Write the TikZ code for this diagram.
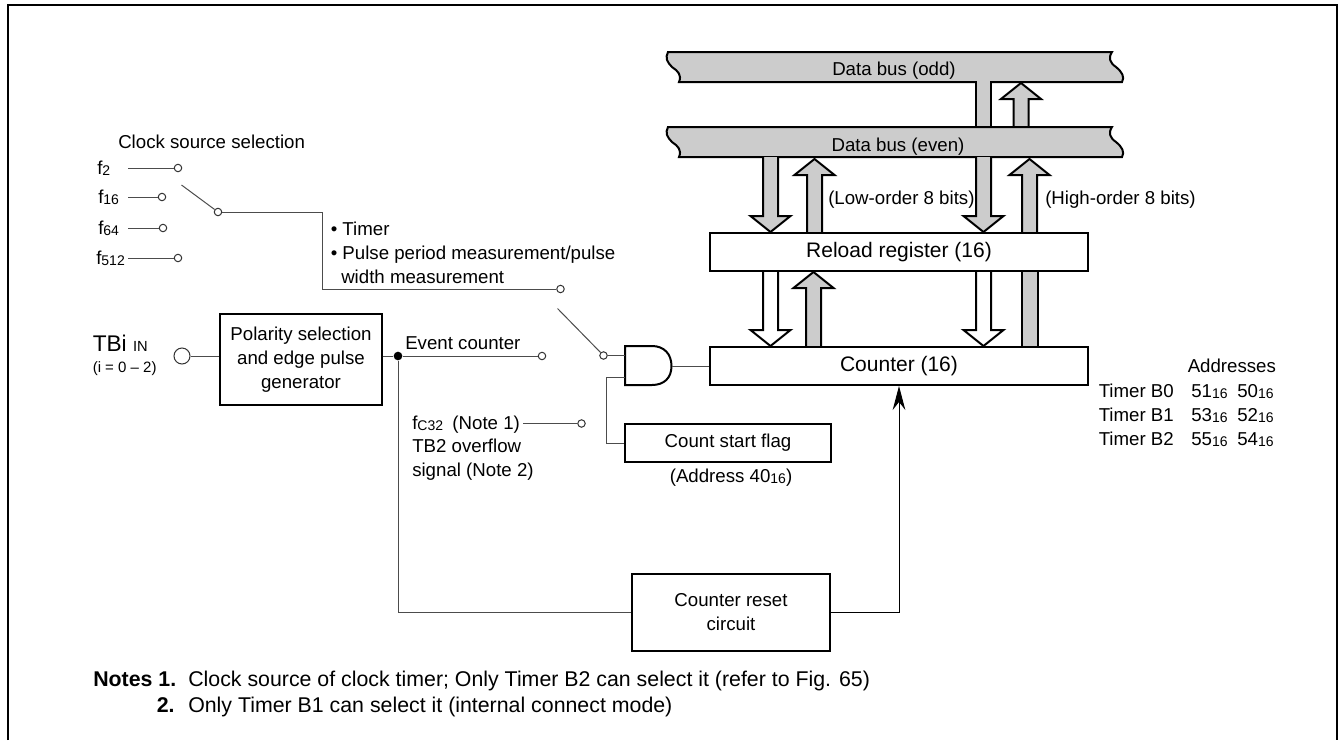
\documentclass[tikz,border=0pt]{standalone}
\usepackage{fontspec}
\setmainfont{Liberation Sans}
\usetikzlibrary{arrows.meta}
\definecolor{busgray}{gray}{0.8}
\newcommand{\lo}[1]{\raisebox{-1pt}{\fontsize{10.5}{11}\selectfont #1}}
\newcommand{\busbar}[1]{\draw[bus] (668,#1) .. controls (665,#1+6) and (667,#1+10) .. (672,#1+15)
    .. controls (678,#1+19) and (682,#1+23) .. (679,#1+30) -- (1122,#1+30)
    .. controls (1125,#1+25) and (1122,#1+20) .. (1116,#1+15)
    .. controls (1110,#1+11) and (1108,#1+6) .. (1112,#1) -- cycle;}
\newcommand{\busdown}[4][bus]{\draw[#1] (#2-7.5,#3) -- (#2-7.5,#4-16) -- (#2-20,#4-16) -- (#2,#4) -- (#2+20,#4-16) -- (#2+7.5,#4-16) -- (#2+7.5,#3);}
\newcommand{\busup}[4][bus]{\draw[#1] (#2-7.5,#3) -- (#2-7.5,#4+16) -- (#2-20,#4+16) -- (#2,#4) -- (#2+20,#4+16) -- (#2+7.5,#4+16) -- (#2+7.5,#3);}
\begin{document}
\begin{tikzpicture}
    \tikzset{x=0.75pt, y=-0.75pt}
    \tikzstyle{txt}=[inner sep=0pt, anchor=base west, font=\fontsize{14}{18}\selectfont]
    \tikzstyle{ctr}=[txt, anchor=base]
    \tikzstyle{note}=[txt, font=\fontsize{16}{18}\selectfont]
    \tikzstyle{noteb}=[txt, font=\fontsize{16}{18}\selectfont\bfseries]
    \tikzstyle{block}=[rectangle, draw, line width=1.5pt, fill=white, align=center, font=\fontsize{14}{18}\selectfont]
    \tikzstyle{reg}=[block, minimum width=283.5pt, minimum height=28.5pt, font=\fontsize{15.75}{18}\selectfont]
    \tikzstyle{term}=[circle, draw=black!80, line width=0.75pt, fill=white, minimum size=5.6pt, inner sep=0pt]
    \tikzstyle{wire}=[draw=black!70, line width=0.75pt]
    \tikzstyle{bus}=[draw, fill=busgray, line width=1.5pt]
    \tikzstyle{busw}=[bus, fill=white]

    \useasboundingbox (0,0) rectangle (1340,740);
    \draw[line width=1.5pt] (8,740) -- (8,5) -- (1337,5) -- (1337,740);

    % data buses
    \busbar{52}
    \draw[bus] (976,81) -- (976,128) -- (991,128) -- (991,81);
    \busup{1021}{129}{83}
    \busbar{127}
    \draw (894,75)      node[ctr]   (odd)   {Data bus (odd)};
    \draw (898,151)     node[ctr]   (even)  {Data bus (even)};

    \busdown{770.5}{157}{232}
    \busup{814.5}{234}{159}
    \busdown{983.5}{157}{232}
    \busup{1029.5}{234}{159}
    \busdown[busw]{770.5}{270}{346}
    \busup{813.5}{348}{272}
    \busdown[busw]{983.5}{270}{346}
    \draw[bus] (1022,270) -- (1022,348) -- (1037.5,348) -- (1037.5,270);

    \draw (828,204)     node[txt]   (low)   {(Low-order 8 bits)};
    \draw (1045,204)    node[txt]   (high)  {(High-order 8 bits)};

    % registers
    \draw (899,252)     node[reg]   (reload)    {Reload register (16)};
    \draw (899,366)     node[reg]   (counter)   {Counter (16)};
    \draw (728,443)     node[block, minimum width=155pt, minimum height=28.5pt]  (flag)  {Count start flag};
    \draw (731,612)     node[block, minimum width=148.5pt, minimum height=57.75pt] (reset) {Counter reset\\circuit};
    \draw (301,359.5)   node[block, minimum width=121pt, minimum height=68pt]  (polarity) {Polarity selection\\and edge pulse\\generator};
    \draw (731,482)     node[ctr]   (addr)  {(Address 40\lo{16})};

    % clock sources
    \draw (118,148)     node[txt]   (title) {Clock source selection};
    \draw (97,174)      node[txt]   (f2)    {f\lo{2}};
    \draw (98,203)      node[txt]   (f16)   {f\lo{16}};
    \draw (98,234)      node[txt]   (f64)   {f\lo{64}};
    \draw (96,264)      node[txt]   (f512)  {f\lo{512}};

    \draw (178,168)     node[term]  (c2)    {};
    \draw (162,197)     node[term]  (c16)   {};
    \draw (163,228)     node[term]  (c64)   {};
    \draw (178,258)     node[term]  (c512)  {};
    \draw (218,212)     node[term]  (csel)  {};
    \draw (560.5,289)   node[term]  (cmeas) {};
    \draw (542,356)     node[term]  (cevt)  {};
    \draw (581.5,423.5) node[term]  (cfc)   {};
    \draw (603.5,355.5) node[term]  (cand)  {};

    \coordinate (s2)    at (128,168);
    \coordinate (s16)   at (128,197);
    \coordinate (s64)   at (128,228);
    \coordinate (s512)  at (128,258);
    \coordinate (sfc)   at (523,423.5);
    \coordinate (arm1)  at (181.5,185);
    \coordinate (arm2)  at (557.5,308.5);
    \coordinate (bend)  at (322,212);

    \draw[wire] (s2) -- (c2);
    \draw[wire] (s16) -- (c16);
    \draw[wire] (s64) -- (c64);
    \draw[wire] (s512) -- (c512);
    \draw[wire] (arm1) -- (csel);
    \draw[wire] (csel) -- (bend) |- (cmeas);
    \draw[wire] (arm2) -- (cand);
    \draw[wire] (sfc) -- (cfc);

    \draw (330.5,235)   node[txt]   (t1)    {• Timer};
    \draw (330.5,259)   node[txt]   (t2)    {• Pulse period measurement/pulse};
    \draw (341,283)     node[txt]   (t3)    {width measurement};

    % input side
    \draw (92.5,351)    node[txt, font=\fontsize{17}{18}\selectfont]  (tbi) {TBi \fontsize{11}{11}\selectfont IN};
    \draw (92.5,372)    node[txt, font=\fontsize{11.25}{14}\selectfont] (range) {(i = 0 -- 2)};
    \draw (182,356)     node[term, minimum size=12pt]  (cin)   {};
    \draw (398,356)     node[circle, fill=black, minimum size=6.5pt, inner sep=0pt] (dot) {};

    \draw[wire] (cin) -- (polarity.west |- cin);
    \draw[wire] (polarity.east |- dot) -- (dot) -- (cevt);
    \draw (405,349)     node[txt]   (evt)   {Event counter};
    \draw (412,429)     node[txt]   (fc)    {f\lo{C32}\hspace{0.5em}(Note 1)};
    \draw (412,452)     node[txt]   (tb2)   {TB2 overflow};
    \draw (412,476)     node[txt]   (sig)   {signal (Note 2)};

    % gate
    \draw[line width=1.5pt] (625,346) -- (652,346) .. controls (664,346) and (671.5,354) .. (671.5,366)
        .. controls (671.5,378) and (664,385) .. (652,385) -- (625,385) -- cycle;
    \coordinate (andin1) at (625,355.5);
    \coordinate (andin2) at (625,377);
    \coordinate (andout) at (671.5,366);
    \coordinate (fbend)  at (606,377);
    \draw[wire] (cand) -- (andin1);
    \draw[wire] (andin2) -- (fbend) |- (flag.west);
    \draw[wire] (andout) -- (counter.west);

    \draw[wire] (dot) |- (reset.west);
    \draw[-{Stealth[length=18pt, width=9.5pt, inset=6pt]}, black, line width=0.75pt] (reset.east) -| (counter.south);

    % address table
    \draw (1187.5,372)  node[txt]   (ahead) {Addresses};
    \draw (1098.5,397)  node[txt]   (b0)    {Timer B0};
    \draw (1098.5,421)  node[txt]   (b1)    {Timer B1};
    \draw (1098.5,445)  node[txt]   (b2)    {Timer B2};
    \draw (1191,397)    node[txt]   (a51)   {51\lo{16}};
    \draw (1191,421)    node[txt]   (a53)   {53\lo{16}};
    \draw (1191,445)    node[txt]   (a55)   {55\lo{16}};
    \draw (1237,397)    node[txt]   (a50)   {50\lo{16}};
    \draw (1237,421)    node[txt]   (a52)   {52\lo{16}};
    \draw (1237,445)    node[txt]   (a54)   {54\lo{16}};

    % notes
    \draw (93,686)      node[noteb] (n1)    {Notes 1.};
    \draw (156.5,712)   node[noteb] (n2)    {2.};
    \draw (188,686)     node[note]  (n1t)   {Clock source of clock timer; Only Timer B2 can select it (refer to Fig. 65)};
    \draw (188,712)     node[note]  (n2t)   {Only Timer B1 can select it (internal connect mode)};
\end{tikzpicture}
\end{document}
